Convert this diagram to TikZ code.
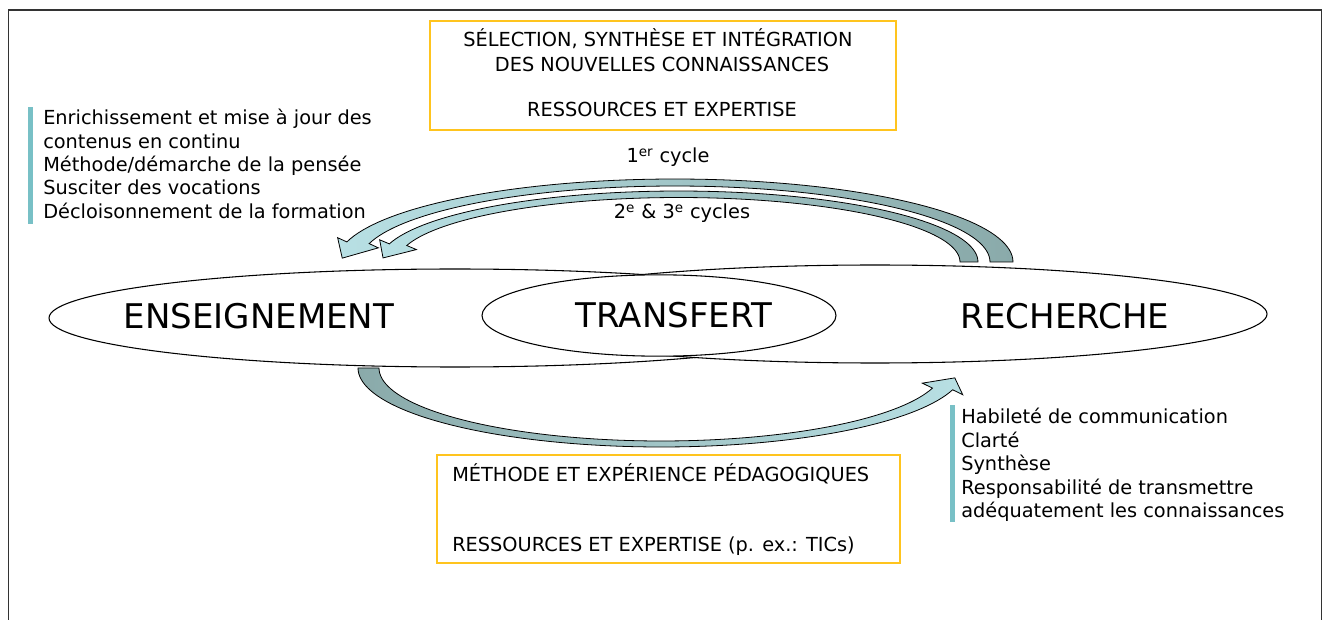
\documentclass[tikz,border=0pt]{standalone}
\usepackage{fontspec}
\setmainfont{DejaVu Sans}
\usetikzlibrary{shapes.geometric}
\definecolor{boxgold}{RGB}{255,196,30}
\definecolor{barteal}{RGB}{120,192,198}
\definecolor{arrlight}{RGB}{184,224,228}
\definecolor{arrdark}{RGB}{138,170,170}
\newcommand{\curvedblock}[1]{%
  \pgfmathsetmacro\qAM{(\qAO+\qAI)/2}%
  \pgfmathsetmacro\qBM{(\qBO+\qBI)/2}%
  \pgfmathsetmacro\qBX{\qCX+\qAM*cos(\qEA)}%
  \pgfmathsetmacro\qBY{\qCY-\qBM*sin(\qEA)}%
  \pgfmathsetmacro\qTX{-\qAM/100*sin(\qEA)}%
  \pgfmathsetmacro\qTY{-\qBM/100*cos(\qEA)}%
  \pgfmathsetmacro\qTN{sqrt((\qTX)*(\qTX)+(\qTY)*(\qTY))}%
  \pgfmathsetmacro\qUX{(\qTX)/\qTN}%
  \pgfmathsetmacro\qUY{(\qTY)/\qTN}%
  \pgfmathsetmacro\qRX{cos(\qEA)}%
  \pgfmathsetmacro\qRY{-sin(\qEA)}%
  \path[#1] plot[domain=\qSA:\qEA,samples=80] ({\qCX+\qAO*cos(\x)},{\qCY-\qBO*sin(\x)})
    -- ({\qBX+\qHW*(\qRX)},{\qBY+\qHW*(\qRY)})
    -- ({\qBX+\qHL*(\qUX)},{\qBY+\qHL*(\qUY)})
    -- ({\qBX-\qHW*(\qRX)},{\qBY-\qHW*(\qRY)})
    -- plot[domain=\qEA:\qSA,samples=80] ({\qCX+\qAI*cos(\x)},{\qCY-\qBI*sin(\x)})
    -- cycle;}
\begin{document}
\begin{tikzpicture}[x=0.75pt,y=-0.75pt,
  txt/.style={font=\fontsize{14.5}{17}\selectfont, inner sep=0pt, anchor=base west},
  ctxt/.style={font=\fontsize{14.5}{17}\selectfont, inner sep=0pt, anchor=base},
  big/.style={font=\fontsize{25.5}{30}\selectfont, inner sep=0pt, anchor=base},
  oval/.style={ellipse, draw=black, fill=white, line width=0.8pt, inner sep=0pt},
  goldbox/.style={draw=boxgold, line width=1.2pt, inner sep=0pt},
  bar/.style={fill=barteal},
  blockarrow/.style={draw=black, line width=0.6pt},
  frame/.style={draw=black!80, line width=1.2pt}]
\useasboundingbox (0,0) rectangle (1329,620);
\clip (0,0) rectangle (1329,620);
% frame
\draw[frame] (8.5,640) -- (8.5,10) -- (1321.5,10) -- (1321.5,640);
% boxes
\node[goldbox, minimum width=349.5pt, minimum height=81.75pt] (topbox) at (663,75.5) {};
\node[goldbox, minimum width=347.25pt, minimum height=81pt] (botbox) at (668.5,509) {};
\node[ctxt] (t1) at (658,47) {SÉLECTION, SYNTHÈSE ET INTÉGRATION};
\node[ctxt] (t2) at (662,72) {DES NOUVELLES CONNAISSANCES};
\node[ctxt] (t3) at (662,117) {RESSOURCES ET EXPERTISE};
\node[txt] (b1) at (452,481) {MÉTHODE ET EXPÉRIENCE PÉDAGOGIQUES};
\node[txt] (b2) at (452,551) {RESSOURCES ET EXPERTISE (p. ex.: TICs)};
% bars
\fill[bar] (28,107) rectangle (33,224);
\fill[bar] (950,405) rectangle (954.5,522);
% left list
\node[txt] (l1) at (43,125) {Enrichissement et mise à jour des};
\node[txt] (l2) at (43,148.3) {contenus en continu};
\node[txt] (l3) at (43,171.6) {Méthode/démarche de la pensée};
\node[txt] (l4) at (43,195) {Susciter des vocations};
\node[txt] (l5) at (43,218.3) {Décloisonnement de la formation};
% right list
\node[txt] (r1) at (961,424) {Habileté de communication};
\node[txt] (r2) at (961,447.3) {Clarté};
\node[txt] (r3) at (961,470.6) {Synthèse};
\node[txt] (r4) at (961,494) {Responsabilité de transmettre};
\node[txt] (r5) at (961,517.3) {adéquatement les connaissances};
% ellipses
\node[oval, minimum width=609pt, minimum height=73.5pt] (ens) at (455,318) {};
\node[oval, minimum width=588pt, minimum height=73.5pt] (rech) at (875,314) {};
\node[oval, minimum width=265.5pt, minimum height=61pt] (trans) at (659,315.5) {};
\node[big] (ensL) at (259,329) {ENSEIGNEMENT};
\node[big] (transL) at (674,328) {TRANSFERT};
\node[big] (rechL) at (1065,329) {RECHERCHE};
% top outer arrow (1er cycle)
\def\qCX{674.9}\def\qCY{262}\def\qAO{338.1}\def\qBO{83}\def\qAI{315.1}\def\qBI{76}
\def\qSA{0}\def\qEA{166}\def\qHL{22}\def\qHW{21}
\curvedblock{blockarrow, left color=arrlight, right color=arrdark}
% top inner arrow (2e & 3e cycles)
\def\qCX{678.7}\def\qCY{262}\def\qAO{299.3}\def\qBO{71}\def\qAI{281.3}\def\qBI{64.5}
\def\qSA{0}\def\qEA{165.2}\def\qHL{20}\def\qHW{19}
\curvedblock{blockarrow, left color=arrlight, right color=arrdark}
% bottom arrow
\def\qCX{661.2}\def\qCY{368}\def\qAO{303.2}\def\qBO{79}\def\qAI{282.2}\def\qBI{73}
\def\qSA{180}\def\qEA{344}\def\qHL{16.5}\def\qHW{21}
\curvedblock{blockarrow, left color=arrdark, right color=arrlight}
% labels
\node[ctxt] (c1) at (668,163) {1\textsuperscript{er} cycle};
\node[ctxt] (c2) at (682,219) {2\textsuperscript{e} \& 3\textsuperscript{e} cycles};
\end{tikzpicture}
\end{document}
